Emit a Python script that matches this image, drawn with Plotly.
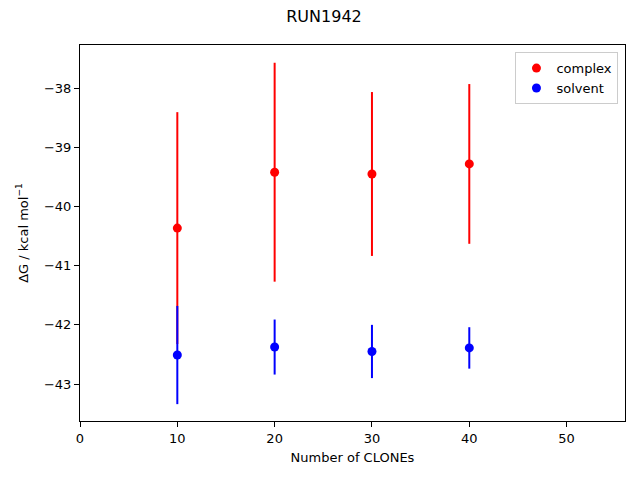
import plotly.graph_objects as go

clones = [10, 20, 30, 40]
complex_dg = [-40.365, -39.42, -39.45, -39.28]
complex_err = [1.96, 1.85, 1.385, 1.35]
solvent_dg = [-42.51, -42.375, -42.45, -42.39]
solvent_err = [0.83, 0.465, 0.45, 0.35]
x_ticks = [0, 10, 20, 30, 40, 50]
y_ticks = [-43, -42, -41, -40, -39, -38]

font = "DejaVu Sans"
fig = go.Figure()
fig.add_trace(go.Scatter(
    x=clones, y=complex_dg, mode="markers", name="complex",
    marker=dict(color="red", size=9),
    error_y=dict(type="data", array=complex_err, color="red", thickness=2, width=0),
))
fig.add_trace(go.Scatter(
    x=clones, y=solvent_dg, mode="markers", name="solvent",
    marker=dict(color="blue", size=9),
    error_y=dict(type="data", array=solvent_err, color="blue", thickness=2, width=0),
))

axis_common = dict(
    showline=True, linecolor="black", linewidth=1, mirror=True,
    ticks="outside", ticklen=5, tickwidth=1, tickcolor="black",
    showgrid=False, zeroline=False,
    tickfont=dict(family=font, size=13, color="black"),
)
fig.update_layout(
    width=632, height=472,
    margin=dict(l=72, r=15, t=37, b=59),
    paper_bgcolor="white", plot_bgcolor="white",
    font=dict(family=font, size=13, color="black"),
    title=dict(text="RUN1942", x=0.5, xanchor="center", y=0.994, yanchor="top",
               pad=dict(t=0), font=dict(family=font, size=16, color="black")),
    xaxis=dict(range=[0, 56], tickvals=x_ticks,
               title=dict(text="Number of CLONEs", standoff=8,
                          font=dict(family=font, size=13)), **axis_common),
    yaxis=dict(range=[-43.625, -37.27], tickvals=y_ticks,
               ticktext=["\u2212" + str(abs(v)) for v in y_ticks],
               title=dict(text="\u0394G / kcal mol<sup>\u22121</sup>", standoff=12,
                          font=dict(family=font, size=13)), **axis_common),
    legend=dict(x=0.988, y=0.981, xanchor="right", yanchor="top",
                bordercolor="#cccccc", borderwidth=1, bgcolor="rgba(255,255,255,0.8)",
                font=dict(family=font, size=13)),
    showlegend=True,
)
fig.write_html("out.html")
